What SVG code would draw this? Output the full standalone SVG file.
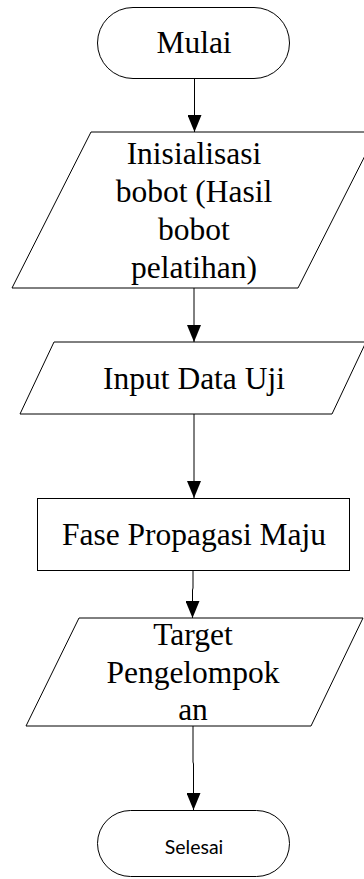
<svg xmlns="http://www.w3.org/2000/svg" width="364" height="879" viewBox="0 0 364 879">
  <style>
    .shape { fill: #ffffff; stroke: #000000; stroke-width: 1; }
    .label { font-family: 'Liberation Serif', 'Times New Roman', serif; font-size: 31.5px; text-anchor: middle; fill: #000000; }
    .small { font-family: Lato, 'Liberation Sans', Arial, sans-serif; font-size: 19.5px; text-anchor: middle; fill: #000000; }
    .edge { fill: none; stroke: #000000; stroke-width: 1; marker-end: url(#arrow); }
  </style>
  <defs>
    <marker id="arrow" markerUnits="userSpaceOnUse" markerWidth="17" markerHeight="14" viewBox="0 0 17 14" refX="17" refY="7" orient="auto">
      <path d="M0,0 L17,7 L0,14 Z" fill="#000000"/>
    </marker>
  </defs>

  <rect width="364" height="879" fill="#ffffff"/>

  <!-- connectors -->
  <g id="connectors">
    <path class="edge" d="M194.5,79 L194.5,132"/>
    <path class="edge" d="M194,288 L194,342"/>
    <path class="edge" d="M194,414 L194,498"/>
    <path class="edge" d="M193,571 L193,588 L192.5,590 L192.5,618"/>
    <path class="edge" d="M193,726 L193,762 L193.5,764 L193.5,810"/>
  </g>

  <!-- start terminator -->
  <g id="start">
    <rect class="shape" x="97.5" y="7.5" width="192" height="71" rx="35.5" ry="35.5"/>
    <text class="label" x="194" y="53">Mulai</text>
  </g>

  <!-- weight initialisation (input) -->
  <g id="init-weights">
    <polygon class="shape" points="91,132 377,132 298,288 12,288"/>
    <text class="label" x="194" y="164">Inisialisasi</text>
    <text class="label" x="194" y="202">bobot (Hasil</text>
    <text class="label" x="194" y="240">bobot</text>
    <text class="label" x="194" y="278">pelatihan)</text>
  </g>

  <!-- test data input -->
  <g id="input-data">
    <polygon class="shape" points="54,342 366,342 332,414 20,414"/>
    <text class="label" x="194" y="389">Input Data Uji</text>
  </g>

  <!-- forward propagation process -->
  <g id="forward-pass">
    <rect class="shape" x="37.5" y="498.5" width="312" height="72"/>
    <text class="label" x="194" y="545">Fase Propagasi Maju</text>
  </g>

  <!-- grouping target output -->
  <g id="target">
    <polygon class="shape" points="79,618 363,618 311,726 26,726"/>
    <text class="label" x="193" y="645">Target</text>
    <text class="label" x="193" y="683">Pengelompok</text>
    <text class="label" x="193" y="720">an</text>
  </g>

  <!-- end terminator -->
  <g id="end">
    <rect class="shape" x="97.5" y="810.5" width="192" height="66" rx="33" ry="33"/>
    <text class="small" x="194" y="854">Selesai</text>
  </g>
</svg>
